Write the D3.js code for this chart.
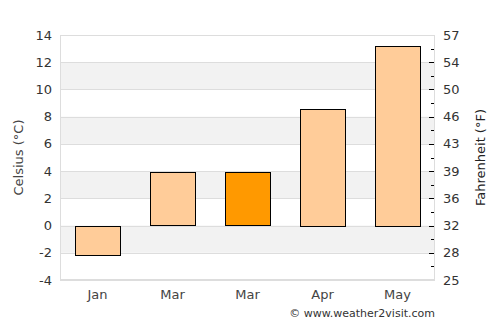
<!DOCTYPE html>
<html>
<head>
<meta charset="utf-8">
<script src="https://d3js.org/d3.v7.min.js"></script>
<style>
  body { margin: 0; background: #fff; }
  text { font-family: "DejaVu Sans", sans-serif; }
</style>
</head>
<body>
<div id="graph"></div>
<script>

    var months = ["Jan", "Mar", "Mar", "Apr", "May"];
    var celsius = [-2.1, 3.9, 3.9, 8.6, 13.2];
    var highlight = [false, false, true, false, false];
    var celsiusTicks = [-4, -2, 0, 2, 4, 6, 8, 10, 12, 14];
    var fahrenheitLabels = [25, 28, 32, 36, 39, 43, 46, 50, 54, 57];

    var margin = { top: 35, right: 65, bottom: 45, left: 60 },
        width = 500 - margin.left - margin.right,
        height = 325 - margin.top - margin.bottom;

    var svg = d3.select("#graph")
        .append("svg")
        .attr("width", 500)
        .attr("height", 325)
        .append("g")
        .attr("transform", "translate(" + margin.left + "," + margin.top + ")");

    var x = d3.scaleBand()
        .domain(d3.range(months.length))
        .range([0, width])
        .paddingInner(0.4)
        .paddingOuter(0.2);

    var y = d3.scaleLinear()
        .domain([-4, 14])
        .range([height, 0]);

    // alternating bands
    svg.append("g")
        .selectAll("rect")
        .data([-2, 2, 6, 10])
        .enter()
        .append("rect")
        .attr("x", 0)
        .attr("width", width)
        .attr("y", function (d) { return y(d + 2); })
        .attr("height", function (d) { return y(d) - y(d + 2); })
        .style("fill", "#f2f2f2");

    // grid lines
    svg.append("g")
        .selectAll("line")
        .data(celsiusTicks)
        .enter()
        .append("line")
        .attr("x1", 0)
        .attr("x2", width)
        .attr("y1", function (d) { return Math.round(y(d)) + 0.5; })
        .attr("y2", function (d) { return Math.round(y(d)) + 0.5; })
        .style("stroke", "#dddddd");

    // frame
    svg.append("rect")
        .attr("x", 0.5)
        .attr("y", 0.5)
        .attr("width", width - 1)
        .attr("height", height - 1)
        .style("fill", "none")
        .style("stroke", "#dddddd");

    // bars
    svg.append("g")
        .selectAll("rect")
        .data(celsius)
        .enter()
        .append("rect")
        .attr("x", function (d, i) { return Math.round(x(i)) + 0.5; })
        .attr("width", Math.round(x.bandwidth()))
        .attr("y", function (d) { return Math.round(y(Math.max(0, d))) + 0.5; })
        .attr("height", function (d) { return Math.round(Math.abs(y(d) - y(0))); })
        .style("fill", function (d, i) { return highlight[i] ? "#ff9900" : "#ffcc99"; })
        .style("stroke", "#000")
        .style("stroke-width", 1);

    // left axis labels
    svg.append("g")
        .selectAll("text")
        .data(celsiusTicks)
        .enter()
        .append("text")
        .attr("x", -8)
        .attr("y", function (d) { return y(d); })
        .attr("dy", "0.35em")
        .attr("text-anchor", "end")
        .style("font-size", "13px")
        .style("fill", "#333")
        .text(function (d) { return d; });

    // right axis ticks (major + minor)
    var minor = d3.range(-3, 14, 2);
    svg.append("g")
        .selectAll("line")
        .data(celsiusTicks.slice(1, -1))
        .enter()
        .append("line")
        .attr("x1", width - 6)
        .attr("x2", width - 1)
        .attr("y1", function (d) { return Math.round(y(d)) + 0.5; })
        .attr("y2", function (d) { return Math.round(y(d)) + 0.5; })
        .style("stroke", "#000");
    svg.append("g")
        .selectAll("line")
        .data(minor)
        .enter()
        .append("line")
        .attr("x1", width - 4)
        .attr("x2", width - 1)
        .attr("y1", function (d) { return Math.round(y(d)) + 0.5; })
        .attr("y2", function (d) { return Math.round(y(d)) + 0.5; })
        .style("stroke", "#000");

    svg.append("g")
        .selectAll("text")
        .data(fahrenheitLabels)
        .enter()
        .append("text")
        .attr("x", width + 8)
        .attr("y", function (d, i) { return y(celsiusTicks[i]); })
        .attr("dy", "0.35em")
        .style("font-size", "13px")
        .style("fill", "#333")
        .text(function (d) { return d; });

    // x labels
    svg.append("g")
        .selectAll("text")
        .data(months)
        .enter()
        .append("text")
        .attr("x", function (d, i) { return x(i) + x.bandwidth() / 2; })
        .attr("y", height + 19)
        .attr("text-anchor", "middle")
        .style("font-size", "13px")
        .style("fill", "#444")
        .text(function (d) { return d; });

    // axis titles
    svg.append("text")
        .attr("transform", "translate(-37," + (height / 2) + ") rotate(-90)")
        .attr("text-anchor", "middle")
        .style("font-size", "13px")
        .style("fill", "#444")
        .text("Celsius (°C)");

    svg.append("text")
        .attr("transform", "translate(" + (width + 50) + "," + (height / 2) + ") rotate(-90)")
        .attr("text-anchor", "middle")
        .style("font-size", "13px")
        .style("fill", "#222")
        .text("Fahrenheit (°F)");

    svg.append("text")
        .attr("x", width)
        .attr("y", height + 37)
        .attr("text-anchor", "end")
        .style("font-size", "11px")
        .style("fill", "#333")
        .text("© www.weather2visit.com");

</script>
</body>
</html>
